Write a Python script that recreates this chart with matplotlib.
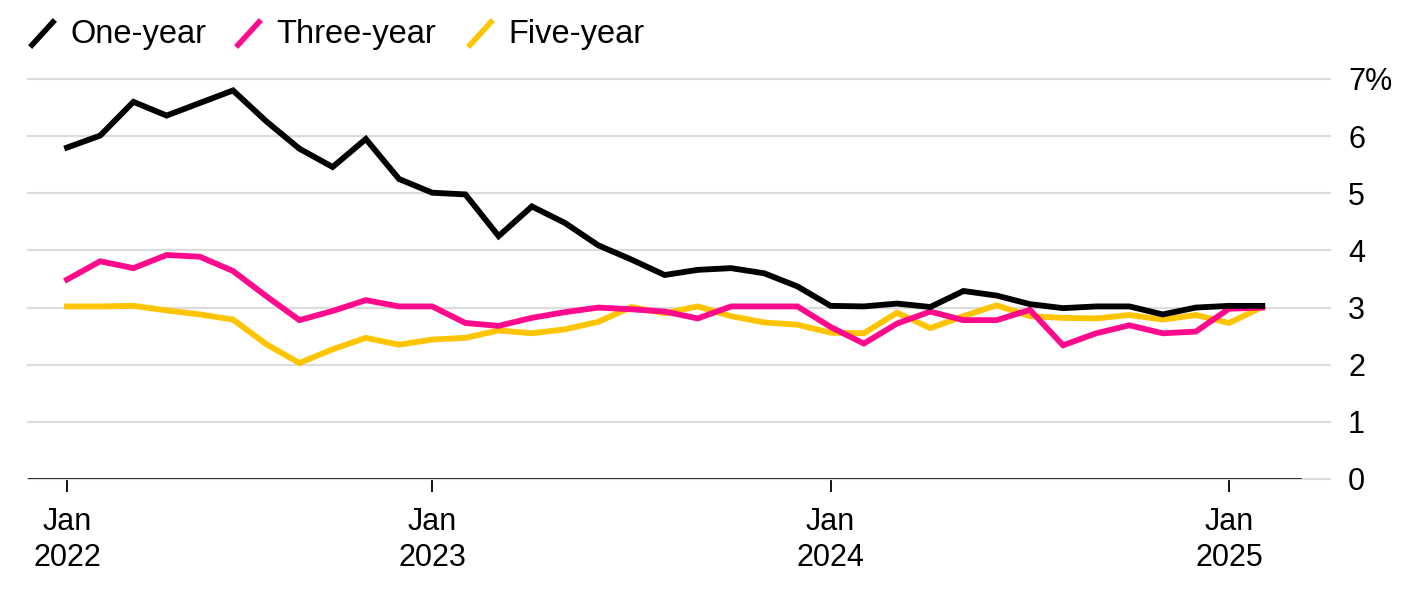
import matplotlib
matplotlib.use("Agg")
import matplotlib.pyplot as plt
from matplotlib.lines import Line2D

# monthly readings, Feb 2022 .. Feb 2025
one_year = [5.80, 6.01, 6.60, 6.36, 6.58, 6.80, 6.26, 5.78, 5.46, 5.95, 5.25, 5.01,
            4.98, 4.25, 4.77, 4.48, 4.09, 3.84, 3.57, 3.66, 3.69, 3.60, 3.37, 3.03,
            3.02, 3.07, 3.01, 3.29, 3.21, 3.06, 2.99, 3.02, 3.02, 2.88, 3.00, 3.03, 3.03]
three_year = [3.49, 3.81, 3.69, 3.92, 3.89, 3.64, 3.20, 2.78, 2.94, 3.13, 3.02, 3.02,
              2.73, 2.68, 2.82, 2.92, 3.00, 2.97, 2.93, 2.81, 3.02, 3.02, 3.02, 2.66,
              2.37, 2.72, 2.93, 2.78, 2.78, 2.96, 2.34, 2.55, 2.69, 2.55, 2.58, 2.98, 3.00]
five_year = [3.02, 3.02, 3.03, 2.95, 2.88, 2.79, 2.36, 2.03, 2.27, 2.47, 2.35, 2.44,
             2.47, 2.60, 2.55, 2.62, 2.75, 3.01, 2.90, 3.02, 2.85, 2.74, 2.70, 2.56,
             2.55, 2.91, 2.64, 2.85, 3.04, 2.85, 2.82, 2.81, 2.87, 2.79, 2.87, 2.73, 3.01]

series_names = ["One-year", "Three-year", "Five-year"]
series_colors = ["#000000", "#ff0a8c", "#ffc400"]

tick_idx = [0, 11, 23, 35]
tick_labels = ["Jan\n2022", "Jan\n2023", "Jan\n2024", "Jan\n2025"]
y_ticks = [0, 1, 2, 3, 4, 5, 6, 7]
y_labels = ["0", "1", "2", "3", "4", "5", "6", "7%"]

plt.rcParams["font.family"] = ["Liberation Sans", "DejaVu Sans"]

W, H = 1416, 608
fig = plt.figure(figsize=(W / 100, H / 100), dpi=100)
ax = fig.add_axes([28 / W, 1 - 479 / H, (1330 - 28) / W, 400 / H])

x = list(range(len(one_year)))
# draw yellow first, black on top
for vals, c in zip([five_year, three_year, one_year], series_colors[::-1]):
    ax.plot(x, vals, color=c, lw=4.2, solid_joinstyle="miter", zorder=3)

ax.set_xlim(-1.175, 38.04)
ax.set_ylim(0, 7)

for s in ax.spines.values():
    s.set_visible(False)

ax.yaxis.tick_right()
ax.set_yticks(y_ticks)
ax.set_yticklabels(y_labels, fontsize=22)
ax.tick_params(axis="y", length=0, pad=13)
ax.grid(axis="y", color="#dcdcdc", lw=1.6, zorder=0)
for gl in ax.yaxis.get_gridlines():
    gl.set_clip_on(False)

ax.set_xticks(tick_idx)
ax.set_xticklabels(tick_labels, fontsize=22, linespacing=1.25)
ax.tick_params(axis="x", length=9, width=1.3, color="black", pad=11)

# baseline stops short of the grid edge
ax.axhline(0, xmin=0, xmax=(1300 - 28) / (1330 - 28), color="black", lw=1.8, zorder=2)

# legend with slash handles
leg_x = [32, 238, 470]
for lx, name, c in zip(leg_x, series_names, series_colors):
    fig.add_artist(Line2D([lx / W, (lx + 21) / W], [1 - 45 / H, 1 - 22 / H],
                          transform=fig.transFigure, color=c, lw=4))
    fig.text((lx + 38) / W, 1 - 34 / H, name, fontsize=23.5, va="center", ha="left")

fig.savefig("out.png", dpi=100)
